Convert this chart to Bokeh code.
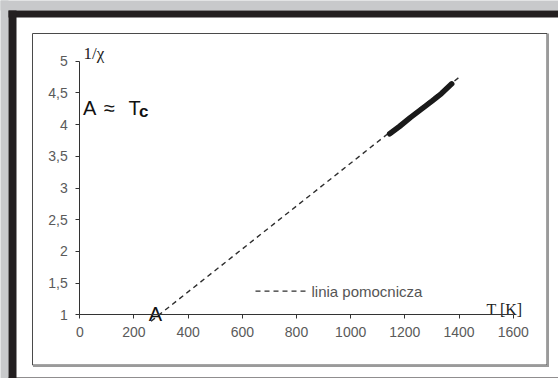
from bokeh.plotting import figure
from bokeh.models import Range1d, LinearAxis, FixedTicker
from bokeh.core.properties import value
from bokeh.embed import file_html
from bokeh.resources import INLINE

# ---- data ----
x_ticks = [0, 200, 400, 600, 800, 1000, 1200, 1400, 1600]
y_ticks = [1, 1.5, 2, 2.5, 3, 3.5, 4, 4.5, 5]
y_tick_labels = ["1", "1,5", "2", "2,5", "3", "3,5", "4", "4,5", "5"]

aux_T = [263, 1398]          # linia pomocnicza (dashed)
aux_inv_chi = [0.899, 4.738]

meas_T = [1144, 1180, 1220, 1260, 1300, 1335, 1373]
meas_inv_chi = [3.855, 3.97, 4.11, 4.24, 4.37, 4.49, 4.643]

A_T = 293  # crossing point A

# ---- pixel <-> data mapping (layout only) ----
W, H = 558, 378
X0PX, XS = 79.3, 433.4 / 1600.0
Y1PX, YS = 314.3, 253.6 / 4.0


def dx(px):
    return (px - X0PX) / XS


def dy(py):
    return 1 + (Y1PX - py) / YS


p = figure(width=W, height=H, output_backend="svg", toolbar_location=None,
           x_range=Range1d(dx(0), dx(W)), y_range=Range1d(dy(H), dy(0)),
           x_axis_location=None, y_axis_location=None, min_border=0,
           outline_line_color=None,
           background_fill_color="white", border_fill_color="white")
p.grid.visible = False

# frames (decoration): grey margins, black bars
grey_l = [dx(-5), dx(-5)]
grey_r = [dx(W + 5), dx(8)]
grey_t = [dy(-5), dy(-5)]
grey_b = [dy(10), dy(H + 5)]
p.quad(left=grey_l, right=grey_r, top=grey_t, bottom=grey_b,
       fill_color="#c8c9cb", line_color=None, level="underlay")
p.quad(left=[dx(8), dx(8), dx(8)], right=[dx(W + 5), dx(16), dx(W + 5)],
       top=[dy(10), dy(10), dy(377)], bottom=[dy(17), dy(H + 5), dy(H + 5)],
       fill_color="#231f20", line_color=None, level="underlay")
p.quad(left=[dx(32)], right=[dx(546.5)], top=[dy(33)], bottom=[dy(364.5)],
       fill_color="white", line_color="#4a4a4a", line_width=1, level="underlay")
p.segment(x0=[dx(547.5), dx(32.5)], y0=[dy(33), dy(365.5)],
          x1=[dx(547.5), dx(548.5)], y1=[dy(366.5), dy(365.5)],
          line_color="#9a9a9a", line_width=2, level="underlay")

# axes
xa = LinearAxis(fixed_location=1, bounds=(0, 1600), ticker=FixedTicker(ticks=x_ticks))
ya = LinearAxis(fixed_location=0, bounds=(1, 5), ticker=FixedTicker(ticks=y_ticks),
                major_label_overrides={t: l for t, l in zip(y_ticks, y_tick_labels)})
for ax in (xa, ya):
    ax.axis_line_color = "#333333"
    ax.major_tick_line_color = "#333333"
    ax.major_tick_in = 0
    ax.major_tick_out = 4
    ax.minor_tick_line_color = None
    ax.major_label_text_font = "Liberation Sans"
    ax.major_label_text_font_size = "14px"
    ax.major_label_text_color = "#5a5a5a"
xa.major_label_standoff = 8
ya.major_label_standoff = 8
p.add_layout(xa, "below")
p.add_layout(ya, "left")

# dashed auxiliary line
p.line(aux_T, aux_inv_chi, line_color="#2e2e2e", line_width=1.4, line_dash="5 4")
# measured data
p.line(meas_T, meas_inv_chi, line_color="#1a1a1a", line_width=5.5, line_cap="round",
       line_join="round")

# texts
serif = value("Liberation Serif")
sans = value("Liberation Sans")
p.text(x=[dx(83)], y=[dy(53)], text=["1/\u03c7"], text_font=serif,
       text_font_size="17px", text_color="#222222", text_baseline="alphabetic")
p.text(x=[dx(486)], y=[dy(309)], text=["T [K]"], text_font=serif,
       text_font_size="16px", text_color="#222222", text_baseline="alphabetic")
p.text(x=[dx(82.5), dx(103.5), dx(128)], y=[dy(107.7)] * 3, text=["A", "\u2248", "T"],
       text_font=sans, text_font_size="20px", text_color="#111111",
       text_baseline="alphabetic")
p.text(x=[dx(138.5)], y=[dy(110.7)], text=["c"], text_font=sans,
       text_font_size="17px", text_font_style="bold", text_color="#111111",
       text_baseline="alphabetic")
p.text(x=[A_T], y=[1], text=["A"], text_font=sans,
       text_font_size="20px", text_color="#111111", text_baseline="alphabetic",
       text_align="right", x_offset=3, y_offset=-1)

# legend (manual)
p.line([dx(255), dx(308)], [dy(290.7), dy(290.7)], line_color="#2e2e2e",
       line_width=1.3, line_dash="5 4")
p.text(x=[dx(311)], y=[dy(290.7)], text=["linia pomocnicza"],
       text_font=sans, text_font_size="15px",
       text_color="#555555", text_baseline="middle")

open("out.html", "w").write(file_html(p, INLINE))
